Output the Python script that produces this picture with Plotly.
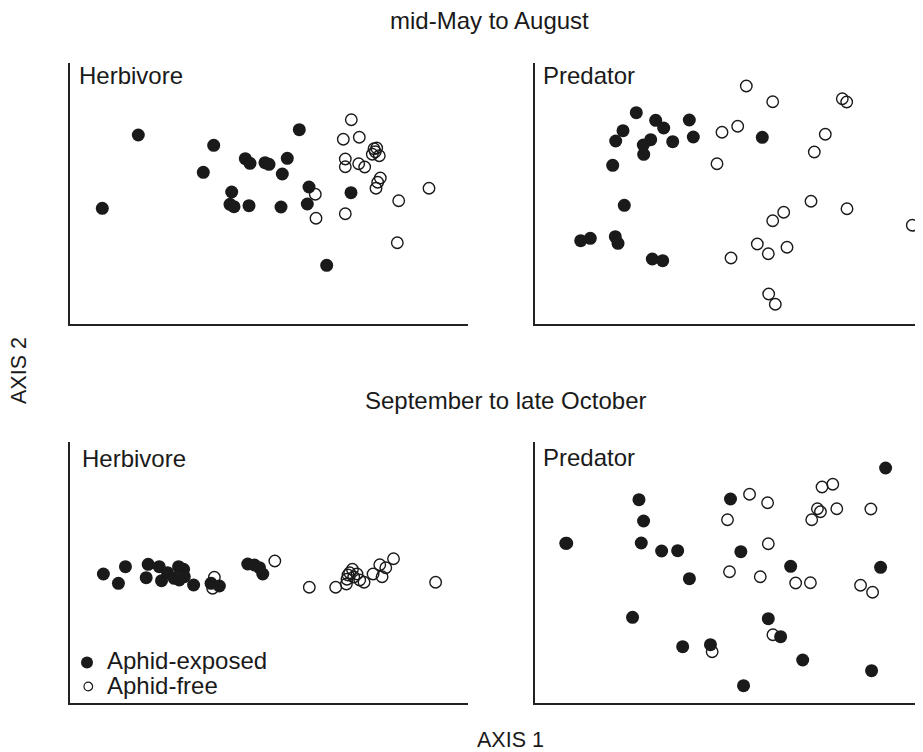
import plotly.graph_objects as go

# ---- Data (ordination scores, arbitrary units) ----
# Panel A: Herbivore, mid-May to August
herb1_exp_x = [68.3, 32.3, 143.7, 175.3, 180, 133.3, 161.7, 160, 164, 179, 229.3, 195, 199, 217.3, 212.3, 211, 239, 237.3, 281, 256.7]
herb1_exp_y = [189, 115.7, 178.7, 165.3, 160.7, 151.7, 132, 119.7, 117.3, 118.3, 194.3, 161.3, 159.7, 165.7, 150, 117, 137, 120, 131.3, 58.7]
herb1_free_x = [281.3, 273.3, 289.3, 304, 306.7, 302.3, 309.3, 305.3, 275.3, 275.3, 288.7, 294.7, 310.3, 307.7, 306, 359, 328.7, 245.3, 246, 275.3, 327.3]
herb1_free_y = [204.3, 184.7, 186.7, 175.3, 176, 169.7, 168.3, 172.3, 165, 157.3, 160.3, 157, 146, 141.7, 135.7, 135.7, 123.3, 129.7, 105.7, 110.3, 81.3]

# Panel B: Predator, mid-May to August
pred1_exp_x = [101.3, 120.7, 128.7, 154.3, 158.3, 88, 80.7, 115.7, 108.3, 108.7, 137.7, 77.7, 89.3, 45.7, 55.3, 80.3, 83, 117.3, 127.7, 227.3]
pred1_exp_y = [211.3, 203.7, 196, 204, 187, 193.3, 183, 184.3, 179, 169.7, 182.3, 158.7, 118.7, 83.3, 85.7, 87.3, 80.7, 65, 63.3, 186.7]
pred1_free_x = [187, 182, 211.3, 237.7, 307.3, 311.7, 202.7, 290.3, 279.3, 276, 312, 377.3, 248.7, 237.7, 222.3, 233.3, 252, 196, 233.7, 240.3]
pred1_free_y = [191.7, 160.3, 238, 222.3, 225.3, 222, 197.7, 189.7, 172, 122.7, 115.3, 98.7, 111.7, 103.3, 80, 70.3, 76.7, 66, 30, 19.7]

# Panel C: Herbivore, September to late October
herb2_exp_x = [33.3, 55.3, 48.3, 78, 76, 89, 91.3, 97.3, 104, 108.3, 113.3, 109, 114, 123.3, 140.7, 149, 177.3, 184, 189, 192.3]
herb2_exp_y = [129, 136.3, 119.7, 138.7, 125.3, 136.3, 122.3, 130.3, 124.7, 136.3, 133.7, 123, 126.3, 118, 119.7, 117, 139, 138, 135.3, 129]
herb2_free_x = [144, 142.3, 204.3, 238.7, 265, 275.7, 276.3, 279, 281.7, 286.3, 289, 293.3, 302.3, 309, 315, 311.3, 322.7, 364.7, 277.3, 283]
herb2_free_y = [125.7, 114.7, 142, 115.7, 115.7, 119, 123.7, 130.3, 133.7, 129, 123, 120.7, 129, 138.3, 135.3, 126.3, 144.3, 120.7, 128, 126]

# Panel D: Predator, September to late October
pred2_exp_x = [103.7, 108.3, 30.7, 106, 126.3, 142.3, 154, 97.3, 147.3, 175, 195, 349.7, 205.3, 255, 344.7, 232.7, 245, 267, 335.7, 208]
pred2_exp_y = [203.3, 182, 159.7, 160, 152, 152.3, 124.3, 85.7, 56.3, 58.3, 204, 235, 151.3, 136.7, 135.7, 84.3, 66.3, 43, 32.3, 17.3]
pred2_free_x = [31.7, 176.7, 214, 232, 192, 286.3, 297, 281.7, 284.7, 276, 301, 335, 232.7, 194, 224.7, 260, 274.7, 324.7, 336.7, 237.3, 387.3]
pred2_free_y = [159.7, 51.3, 208.7, 200.3, 183.3, 216, 218.7, 194.3, 191.3, 183.3, 194.3, 194, 159.3, 131.3, 126.3, 120, 120.3, 117.7, 110.7, 68.3, 58.7]

period_titles = ["mid-May to August", "September to late October"]
panel_names = ["Herbivore", "Predator", "Herbivore", "Predator"]
legend_labels = ["Aphid-exposed", "Aphid-free"]
axis_titles = ["AXIS 1", "AXIS 2"]

# ---- Figure ----
# The page body has an 8px margin, so the figure is 8px smaller and positions are shifted by 8px.
OFF = 8
W, H = 923 - OFF, 752 - OFF
FONT = "Liberation Sans, Arial, Helvetica, sans-serif"
INK = "#1a1a1a"

def px(x):
    return min(1.0, (x - OFF) / W)

def py(y):
    return 1 - (y - OFF) / H

fig = go.Figure()

panels = [
    (herb1_exp_x, herb1_exp_y, herb1_free_x, herb1_free_y, "x", "y"),
    (pred1_exp_x, pred1_exp_y, pred1_free_x, pred1_free_y, "x2", "y2"),
    (herb2_exp_x, herb2_exp_y, herb2_free_x, herb2_free_y, "x3", "y3"),
    (pred2_exp_x, pred2_exp_y, pred2_free_x, pred2_free_y, "x4", "y4"),
]

for ex, ey, fx, fy, xa, ya in panels:
    fig.add_trace(go.Scatter(
        x=ex, y=ey, xaxis=xa, yaxis=ya, mode="markers", showlegend=False,
        name=legend_labels[0],
        marker=dict(symbol="circle", size=13, color=INK, line=dict(width=0)),
    ))
    fig.add_trace(go.Scatter(
        x=fx, y=fy, xaxis=xa, yaxis=ya, mode="markers", showlegend=False,
        name=legend_labels[1],
        marker=dict(symbol="circle-open", size=11.5, color=INK, line=dict(width=1.4)),
    ))

axis_common = dict(showline=True, linecolor="#222", linewidth=1.5, mirror=False,
                   showgrid=False, zeroline=False, showticklabels=False, ticks="",
                   fixedrange=True)

xd_left = [px(70), px(468)]
xd_right = [px(535), 1.0]
yd_top = [py(324), py(63)]
yd_bot = [py(703), py(442)]

fig.update_layout(
    width=W, height=H,
    margin=dict(l=0, r=0, t=0, b=0),
    paper_bgcolor="white", plot_bgcolor="white",
    font=dict(family=FONT, color=INK),
    xaxis=dict(domain=xd_left, range=[0, 398], anchor="y", **axis_common),
    yaxis=dict(domain=yd_top, range=[0, 261], anchor="x", **axis_common),
    xaxis2=dict(domain=xd_right, range=[0, 388], anchor="y2", **axis_common),
    yaxis2=dict(domain=yd_top, range=[0, 261], anchor="x2", **axis_common),
    xaxis3=dict(domain=xd_left, range=[0, 397], anchor="y3", **axis_common),
    yaxis3=dict(domain=yd_bot, range=[0, 261], anchor="x3", **axis_common),
    xaxis4=dict(domain=xd_right, range=[0, 387], anchor="y4", **axis_common),
    yaxis4=dict(domain=yd_bot, range=[0, 261], anchor="x4", **axis_common),
)

def note(text, x, y, size, xanchor="center", angle=0):
    fig.add_annotation(text=text, x=px(x), y=py(y), xref="paper", yref="paper",
                       xanchor=xanchor, yanchor="middle", showarrow=False,
                       textangle=angle, font=dict(size=size, family=FONT, color=INK))

note(period_titles[0], 489, 21, 24)
note(period_titles[1], 505, 400, 24)
note(panel_names[0], 77, 75, 24, xanchor="left")
note(panel_names[1], 540.5, 75, 24, xanchor="left")
note(panel_names[2], 79.5, 458, 24, xanchor="left")
note(panel_names[3], 541, 457, 24, xanchor="left")
note(axis_titles[0], 510, 740, 21.5)
note(axis_titles[1], 19, 371, 21.5, angle=-90)
note(legend_labels[0], 105, 660, 24, xanchor="left")
note(legend_labels[1], 105, 685.5, 24, xanchor="left")

# legend key symbols
fig.add_shape(type="circle", xref="paper", yref="paper", xsizemode="pixel", ysizemode="pixel",
              xanchor=px(87), yanchor=py(662.5), x0=-6, x1=6, y0=-6, y1=6,
              fillcolor=INK, line=dict(width=0))
fig.add_shape(type="circle", xref="paper", yref="paper", xsizemode="pixel", ysizemode="pixel",
              xanchor=px(88.3), yanchor=py(686.5), x0=-4.3, x1=4.3, y0=-4.3, y1=4.3,
              fillcolor="rgba(0,0,0,0)", line=dict(width=1.2, color=INK))

fig.write_html("out.html")
